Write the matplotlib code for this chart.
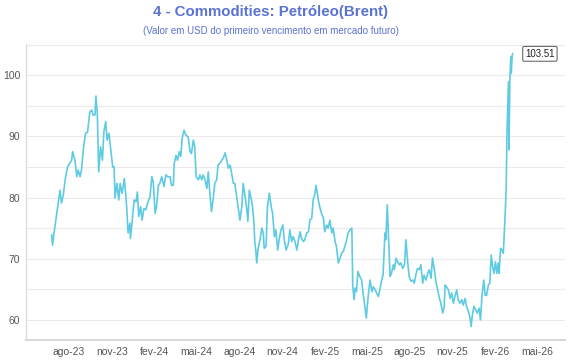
import matplotlib
matplotlib.use("Agg")
import matplotlib.pyplot as plt
import matplotlib.dates as mdates
import numpy as np

# Brent, primeiro vencimento (USD) - dias contados a partir de 25/06/2023
inicio = np.datetime64('2023-06-25')
dias = [0, 2, 6, 9, 13, 18, 21, 25, 30, 34, 39, 43, 45, 50, 54, 57, 61, 64, 69, 73,
        77, 82, 86, 89, 93, 95, 98, 101, 105, 109, 112, 116, 119, 123, 127, 131, 134, 136, 140, 144,
        147, 151, 156, 161, 164, 168, 169, 173, 177, 181, 184, 187, 191, 194, 198, 202, 206, 211, 215, 218,
        222, 225, 229, 232, 236, 241, 245, 249, 254, 257, 261, 263, 267, 270, 274, 277, 280, 284, 288, 293,
        297, 300, 304, 307, 310, 315, 318, 322, 325, 329, 333, 336, 340, 343, 347, 350, 354, 357, 361, 365,
        368, 372, 375, 379, 383, 386, 390, 393, 397, 400, 404, 408, 411, 415, 418, 421, 424, 428, 431, 434,
        436, 438, 440, 443, 447, 451, 454, 456, 460, 463, 467, 471, 474, 478, 481, 485, 488, 492, 496, 499,
        503, 508, 511, 515, 518, 522, 526, 529, 533, 536, 540, 543, 547, 551, 554, 558, 561, 565, 567, 570,
        572, 576, 579, 583, 586, 590, 593, 597, 601, 604, 608, 611, 615, 619, 622, 626, 629, 633, 636, 640,
        644, 646, 649, 651, 654, 657, 661, 665, 669, 672, 675, 679, 683, 687, 690, 694, 697, 701, 704, 708,
        711, 715, 717, 720, 723, 726, 729, 733, 735, 739, 742, 746, 749, 753, 757, 760, 764, 767, 771, 775,
        778, 782, 785, 789, 792, 796, 799, 803, 807, 810, 814, 817, 821, 825, 828, 832, 835, 839, 842, 844,
        847, 851, 855, 858, 862, 865, 869, 872, 876, 880, 883, 887, 890, 894, 897, 900, 902, 906, 910, 913,
        917, 920, 923, 927, 930, 933, 937, 940, 943, 946, 949, 952, 955, 958, 960, 963, 966, 969, 973, 975,
        977, 980, 981, 983, 985, 986, 988, 989]
brent = [73.9, 72.2, 74.7, 76.3, 78.5, 81.2, 79.1, 80.4, 83.4, 85.0, 85.6, 86.1, 87.5, 86.1, 83.4, 84.5, 83.4, 84.5, 88.6, 90.5,
         90.7, 94.0, 94.3, 93.5, 93.5, 96.6, 93.7, 84.2, 88.3, 86.1, 90.7, 92.4, 89.4, 90.5, 87.8, 85.0, 85.0, 79.9, 82.3, 79.6,
         82.3, 80.7, 83.1, 78.5, 74.2, 75.8, 73.3, 76.3, 79.6, 79.3, 80.9, 76.9, 78.5, 76.3, 78.2, 78.0, 79.1, 80.1, 83.4, 82.6,
         77.4, 78.5, 82.0, 82.3, 83.4, 81.8, 83.7, 83.4, 83.4, 82.0, 82.0, 85.6, 86.9, 86.1, 87.5, 86.7, 89.7, 91.0, 90.2, 89.9,
         87.5, 87.2, 89.4, 88.3, 83.4, 82.9, 83.7, 82.9, 83.7, 82.9, 81.5, 84.2, 80.1, 77.7, 80.1, 82.3, 82.9, 85.3, 85.6, 86.1,
         86.4, 87.3, 86.4, 84.8, 85.3, 84.0, 82.3, 82.3, 80.1, 78.5, 76.3, 78.5, 82.3, 80.1, 78.5, 76.1, 81.2, 79.9, 78.5, 75.8,
         72.5, 71.4, 69.3, 71.7, 73.1, 75.0, 74.2, 71.7, 72.0, 78.5, 80.7, 78.5, 77.4, 73.6, 74.7, 71.4, 73.1, 74.7, 75.5, 73.1,
         71.4, 72.5, 74.7, 72.8, 73.6, 72.8, 71.4, 72.8, 74.4, 73.3, 72.8, 73.1, 74.2, 74.4, 76.3, 76.6, 79.6, 80.7, 82.0, 80.7,
         79.6, 78.2, 77.4, 76.6, 74.4, 75.5, 75.0, 76.3, 74.2, 75.0, 72.8, 72.0, 69.3, 70.1, 70.9, 71.2, 72.0, 73.1, 74.2, 74.7,
         75.0, 65.4, 63.3, 65.2, 64.6, 67.9, 67.1, 66.5, 63.8, 62.2, 60.3, 63.8, 66.5, 64.6, 65.4, 64.9, 64.4, 63.8, 64.9, 66.5,
         67.3, 74.2, 73.1, 78.8, 73.1, 67.1, 67.6, 69.0, 68.2, 70.1, 69.5, 69.0, 69.3, 68.4, 69.0, 73.1, 69.3, 67.1, 66.3, 66.5,
         66.0, 67.6, 68.4, 68.2, 69.0, 66.0, 67.3, 66.5, 67.6, 68.2, 66.8, 70.1, 68.2, 66.0, 64.9, 63.5, 62.7, 61.1, 62.0, 65.7,
         65.4, 64.9, 63.5, 64.4, 62.7, 63.8, 64.9, 63.3, 62.7, 63.3, 62.4, 63.5, 62.2, 61.4, 60.5, 58.9, 60.5, 62.2, 61.6, 61.1,
         61.9, 60.0, 63.8, 66.5, 64.0, 64.0, 65.7, 66.0, 70.6, 68.7, 67.6, 69.5, 67.6, 69.3, 67.6, 71.7, 71.4, 70.9, 77.4, 81.2,
         91.0, 98.9, 87.8, 99.2, 103.0, 100.3, 103.3, 103.51]

meses = ['jan', 'fev', 'mar', 'abr', 'mai', 'jun', 'jul', 'ago', 'set', 'out', 'nov', 'dez']
marcas_x = np.arange(np.datetime64('2023-08'), np.datetime64('2026-06'), 3).astype('datetime64[D]')

datas = inicio + np.array(dias).astype('timedelta64[D]')

plt.rcParams['font.family'] = ['Liberation Sans', 'DejaVu Sans']

fig = plt.figure(figsize=(5.7, 3.6), dpi=100)
ax = fig.add_axes([0.0456, 0.0556, 0.9454, 0.822])

ax.plot(datas, brent, color='#5ecbe2', linewidth=1.2)

# rótulo do último valor
ax.annotate(f'{brent[-1]:.2f}', xy=(datas[-1], brent[-1]), xytext=(9, 0),
            textcoords='offset points', ha='left', va='center', fontsize=7, color='#222222',
            bbox=dict(boxstyle='round,pad=0.25,rounding_size=0.15', fc='white', ec='#555555', lw=0.7))

fig.suptitle('4 - Commodities: Petróleo(Brent)', x=0.475, y=0.985, fontsize=10.8,
             fontweight='bold', color='#5a72d0')
fig.text(0.475, 0.905, '(Valor em USD do primeiro vencimento em mercado futuro)',
         ha='center', fontsize=7, color='#5a72d0')

ax.set_xlim(np.datetime64('2023-05-01'), np.datetime64('2026-06-30'))
ax.set_ylim(56.7, 105.1)
ax.set_yticks([60, 70, 80, 90, 100])
ax.set_yticks([65, 75, 85, 95, 105], minor=True)
ax.set_xticks(marcas_x)
ax.set_xticklabels([f"{meses[d.astype(object).month - 1]}-{d.astype(object).year % 100:02d}" for d in marcas_x])

ax.grid(axis='y', which='both', color='#ebebeb', linewidth=0.8)
ax.set_axisbelow(True)
ax.tick_params(axis='both', which='both', length=0, labelsize=7.5, labelcolor='#555555')
ax.tick_params(axis='y', pad=4)
ax.tick_params(axis='x', pad=5)
for lado in ['top', 'right']:
    ax.spines[lado].set_visible(False)
ax.spines['left'].set_color('#d9d9d9')
ax.spines['bottom'].set_color('#d9d9d9')
ax.spines['bottom'].set_linewidth(1.5)

fig.savefig('out.png', dpi=100)
